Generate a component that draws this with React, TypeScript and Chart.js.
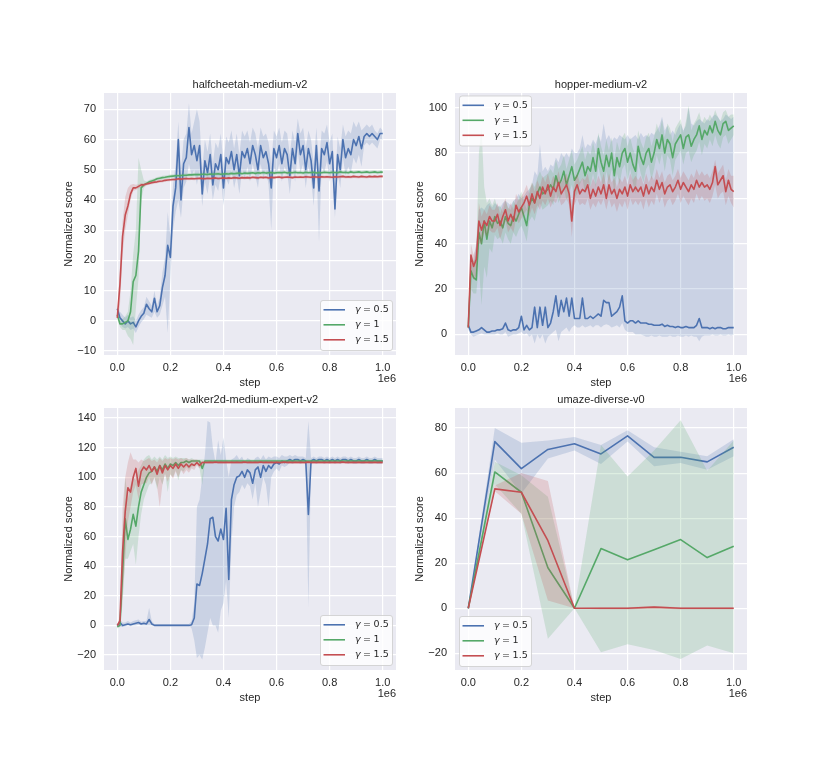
import React, { useEffect, useRef } from 'react';
import { Chart, registerables } from 'chart.js';

Chart.register(...registerables);

// evaluation steps (in units of 1e6)
const NOISY_STEPS = [
  0, 0.01, 0.02, 0.03, 0.04, 0.05, 0.06, 0.07, 0.08, 0.09,
  0.1, 0.11, 0.12, 0.13, 0.14, 0.15, 0.16, 0.17, 0.18, 0.19,
  0.2, 0.21, 0.22, 0.23, 0.24, 0.25, 0.26, 0.27, 0.28, 0.29,
  0.3, 0.31, 0.32, 0.33, 0.34, 0.35, 0.36, 0.37, 0.38, 0.39,
  0.4, 0.41, 0.42, 0.43, 0.44, 0.45, 0.46, 0.47, 0.48, 0.49,
  0.5, 0.51, 0.52, 0.53, 0.54, 0.55, 0.56, 0.57, 0.58, 0.59,
  0.6, 0.61, 0.62, 0.63, 0.64, 0.65, 0.66, 0.67, 0.68, 0.69,
  0.7, 0.71, 0.72, 0.73, 0.74, 0.75, 0.76, 0.77, 0.78, 0.79,
  0.8, 0.81, 0.82, 0.83, 0.84, 0.85, 0.86, 0.87, 0.88, 0.89,
  0.9, 0.91, 0.92, 0.93, 0.94, 0.95, 0.96, 0.97, 0.98, 0.99,
  1,
];
const UM_STEPS = [0, 0.1, 0.2, 0.3, 0.4, 0.5, 0.6, 0.7, 0.8, 0.9, 1];

const X_TICKS = [0, 0.2, 0.4, 0.6, 0.8, 1];
const HC_Y_TICKS = [-10, 0, 10, 20, 30, 40, 50, 60, 70];
const HP_Y_TICKS = [0, 20, 40, 60, 80, 100];
const WK_Y_TICKS = [-20, 0, 20, 40, 60, 80, 100, 120, 140];
const UM_Y_TICKS = [-20, 0, 20, 40, 60, 80];

const LEGEND_LABELS = ['γ = 0.5', 'γ = 1', 'γ = 1.5'];

// ---- halfcheetah-medium-v2 ----
const HC_BLUE = [
  4, 1, 0, -1, 0, -1, -0.5, -2, 0, 1.5,
  2.5, 5.5, 4, 3, 7.5, 3, 5, 11, 15, 25,
  21, 38, 44, 60, 40, 52, 54, 64, 55, 58,
  53, 58, 42, 53, 49, 55, 45, 52, 50, 55,
  44, 54, 52, 56, 50, 55, 48, 56, 54, 57,
  52, 58, 55, 50, 58, 54, 56, 52, 44, 57,
  54, 58, 52, 57, 55, 48, 57, 52, 62, 55,
  58, 50, 57, 53, 44, 58, 43, 57, 55, 59,
  52, 56, 37, 55, 50, 60, 54, 57, 55, 60,
  58, 61, 57, 61, 62, 61, 62, 61, 60, 62,
  62,
];
const HC_BLUE_LO = [
  2, -1, -2, -2.5, -2, -3, -2.5, -4, -2, -0.5,
  0.5, 2, 1.5, 1, 3, 1, 2, 5, 8, -4,
  14, 30, 36, 40, 34, 44, 46, 52, 48, 50,
  45, 50, 38, 46, 42, 48, 40, 45, 43, 48,
  38, 47, 45, 50, 44, 48, 42, 50, 47, 51,
  46, 52, 48, 44, 52, 47, 50, 45, 30, 51,
  48, 52, 46, 51, 49, 42, 51, 46, 56, 49,
  52, 44, 51, 47, 38, 52, 26, 51, 49, 53,
  46, 50, 34, 49, 44, 54, 48, 51, 49, 54,
  52, 55, 51, 58, 59, 58, 59, 58, 57, 60,
  60,
];
const HC_BLUE_HI = [
  5, 3, 2, 1, 2, 1, 1.5, 0, 2, 3.5,
  4.5, 8, 6.5, 5, 10, 5, 8, 16, 21, 36,
  28, 45, 52, 66, 50, 60, 62, 72, 62, 66,
  70, 66, 50, 60, 56, 62, 52, 59, 57, 62,
  52, 61, 59, 63, 57, 62, 55, 63, 61, 63,
  59, 64, 62, 57, 64, 61, 62, 59, 52, 63,
  61, 64, 59, 63, 62, 55, 63, 59, 67, 62,
  64, 57, 63, 60, 52, 64, 52, 63, 62, 65,
  59, 62, 44, 61, 57, 65, 61, 63, 62, 66,
  64, 66, 63, 64, 65, 64, 65, 63, 62, 64,
  63,
];
const HC_GREEN = [
  2, -1, -1, -0.5, 0, 3, 13, 15, 23, 44,
  45, 45.5, 46, 46.3, 46.6, 47, 47.2, 47.4, 47.5, 47.7,
  47.8, 47.9, 48, 48, 48.1, 48.2, 48.2, 48.3, 48.3, 48.4,
  48.4, 48.4, 48.5, 48.5, 48.4, 48.6, 48.5, 48.6, 48.7, 48.5,
  48.6, 48.7, 48.6, 48.8, 48.7, 48.8, 48.9, 48.7, 48.9, 48.8,
  48.9, 49, 48.8, 49, 48.9, 49.1, 48.9, 49, 49.1, 48.9,
  49, 49.1, 49, 49.2, 48.9, 49.1, 49, 49.2, 49, 49.1,
  48.9, 49.2, 49, 49.1, 49.2, 48.9, 49.1, 49, 49.2, 49.1,
  49, 49.2, 49.1, 49, 49.3, 49.1, 49.2, 49, 49.3, 49.1,
  49.2, 49.3, 49.1, 49.2, 49.3, 49.1, 49.2, 49.3, 49.1, 49.2,
  49.2,
];
const HC_GREEN_LO = [
  1, -2, -3, -3, -5, -6, -8, 4, 14, 40,
  44, 44.9, 45.4, 45.7, 46, 46.4, 46.6, 46.8, 46.9, 47.1,
  47.2, 47.3, 47.4, 47.4, 47.5, 47.6, 47.6, 47.7, 47.7, 47.8,
  47.8, 47.8, 47.9, 47.9, 47.8, 48, 47.9, 48, 48.1, 47.9,
  48, 48.1, 48, 48.2, 48.1, 48.2, 48.3, 48.1, 48.3, 48.2,
  48.3, 48.4, 48.2, 48.4, 48.3, 48.5, 48.3, 48.4, 48.5, 48.3,
  48.4, 48.5, 48.4, 48.6, 48.3, 48.5, 48.4, 48.6, 48.4, 48.5,
  48.3, 48.6, 48.4, 48.5, 48.6, 48.3, 48.5, 48.4, 48.6, 48.5,
  48.4, 48.6, 48.5, 48.4, 48.7, 48.5, 48.6, 48.4, 48.7, 48.5,
  48.6, 48.7, 48.5, 48.6, 48.7, 48.5, 48.6, 48.7, 48.5, 48.6,
  48.6,
];
const HC_GREEN_HI = [
  3, 0, 0.5, 1.5, 3, 10, 22, 30, 54, 50,
  46.5, 46.1, 46.6, 46.9, 47.2, 47.6, 47.8, 48, 48.1, 48.3,
  48.4, 48.5, 48.6, 48.6, 48.7, 48.8, 48.8, 48.9, 48.9, 49,
  49, 49, 49.1, 49.1, 49, 49.2, 49.1, 49.2, 49.3, 49.1,
  49.2, 49.3, 49.2, 49.4, 49.3, 49.4, 49.5, 49.3, 49.5, 49.4,
  49.5, 49.6, 49.4, 49.6, 49.5, 49.7, 49.5, 49.6, 49.7, 49.5,
  49.6, 49.7, 49.6, 49.8, 49.5, 49.7, 49.6, 49.8, 49.6, 49.7,
  49.5, 49.8, 49.6, 49.7, 49.8, 49.5, 49.7, 49.6, 49.8, 49.7,
  49.6, 49.8, 49.7, 49.6, 49.9, 49.7, 49.8, 49.6, 49.9, 49.7,
  49.8, 49.9, 49.7, 49.8, 49.9, 49.7, 49.8, 49.9, 49.7, 49.8,
  49.8,
];
const HC_RED = [
  1, 12, 28, 35, 38, 42, 44, 44, 44.5, 45,
  45, 45.3, 45.5, 45.7, 45.9, 46, 46.2, 46.3, 46.5, 46.6,
  46.7, 46.8, 46.8, 47, 46.9, 47, 47.1, 47, 47.1, 47,
  47.1, 47.2, 47.1, 47, 47.2, 47.1, 47.2, 47.3, 47.1, 47.2,
  47.3, 47.2, 47.3, 47.2, 47.4, 47.3, 47.2, 47.4, 47.3, 47.4,
  47.3, 47.5, 47.4, 47.3, 47.5, 47.4, 47.5, 47.3, 47.5, 47.4,
  47.5, 47.6, 47.4, 47.5, 47.6, 47.5, 47.4, 47.6, 47.5, 47.6,
  47.5, 47.7, 47.6, 47.5, 47.7, 47.6, 47.5, 47.7, 47.6, 47.7,
  47.6, 47.5, 47.7, 47.6, 47.7, 47.8, 47.6, 47.7, 47.6, 47.8,
  47.7, 47.6, 47.8, 47.7, 47.6, 47.8, 47.7, 47.8, 47.7, 47.8,
  47.8,
];
const HC_RED_LO = [
  0, 5, 22, 30, 35, 40, 43, 43.3, 43.8, 44.3,
  44.4, 44.8, 45, 45.2, 45.4, 45.5, 45.7, 45.8, 46, 46.1,
  46.2, 46.3, 46.3, 46.5, 46.4, 46.5, 46.6, 46.5, 46.6, 46.5,
  46.6, 46.7, 46.6, 46.5, 46.7, 46.6, 46.7, 46.8, 46.6, 46.7,
  46.8, 46.7, 46.8, 46.7, 46.9, 46.8, 46.7, 46.9, 46.8, 46.9,
  46.8, 47, 46.9, 46.8, 47, 46.9, 47, 46.8, 47, 46.9,
  47, 47.1, 46.9, 47, 47.1, 47, 46.9, 47.1, 47, 47.1,
  47, 47.2, 47.1, 47, 47.2, 47.1, 47, 47.2, 47.1, 47.2,
  47.1, 47, 47.2, 47.1, 47.2, 47.3, 47.1, 47.2, 47.1, 47.3,
  47.2, 47.1, 47.3, 47.2, 47.1, 47.3, 47.2, 47.3, 47.2, 47.3,
  47.3,
];
const HC_RED_HI = [
  2, 18, 33, 41, 44, 45, 45.3, 45, 45.2, 45.6,
  45.6, 45.8, 46, 46.2, 46.4, 46.5, 46.7, 46.8, 47, 47.1,
  47.2, 47.3, 47.3, 47.5, 47.4, 47.5, 47.6, 47.5, 47.6, 47.5,
  47.6, 47.7, 47.6, 47.5, 47.7, 47.6, 47.7, 47.8, 47.6, 47.7,
  47.8, 47.7, 47.8, 47.7, 47.9, 47.8, 47.7, 47.9, 47.8, 47.9,
  47.8, 48, 47.9, 47.8, 48, 47.9, 48, 47.8, 48, 47.9,
  48, 48.1, 47.9, 48, 48.1, 48, 47.9, 48.1, 48, 48.1,
  48, 48.2, 48.1, 48, 48.2, 48.1, 48, 48.2, 48.1, 48.2,
  48.1, 48, 48.2, 48.1, 48.2, 48.3, 48.1, 48.2, 48.1, 48.3,
  48.2, 48.1, 48.3, 48.2, 48.1, 48.3, 48.2, 48.3, 48.2, 48.3,
  48.3,
];

// ---- hopper-medium-v2 ----
const HP_BLUE = [
  4, 1, 1, 1.5, 2, 3, 2, 1, 1, 1.5,
  1.5, 2, 2, 2.5, 5, 2, 1.5, 2, 2, 3,
  8, 2, 4, 2, 3, 12, 3, 12, 4, 12,
  3, 5, 10, 17, 8, 15, 10, 16, 8, 16,
  7, 7, 7, 16, 7, 7, 8, 7, 8, 9,
  8, 15, 14, 14, 8, 9, 10, 12, 17, 6,
  5, 6, 6, 5, 6, 5, 5, 5, 4.5, 4.5,
  4, 4, 4, 4.5, 3.5, 4, 3.5, 3.5, 3, 3.5,
  3, 3, 3.5, 3, 3, 3, 4, 7, 3, 3,
  3, 2.5, 3, 2.5, 3, 3, 2.5, 2.5, 3, 3,
  3,
];
const HP_BLUE_LO = [
  2, 0, -1, -0.5, 0, 0.5, 0, 0, 0, 0,
  0, 0.5, 0, 0, 1, -1, -0.5, 0, 0, 0.5,
  1, 0, 0.5, -1, 0, -4, 0, -2, 0, -4,
  -1, 0, 1, 2, -3, 1, 2, 3, 1, 3,
  4, 3, 3, 4, 3, 3.5, 4, 3, 4, 4,
  3, 4, 4.5, 4, 3, 3.5, 4, 3, 5, 2,
  1, 1, 1, 0, 0, 0, -0.5, -1, -1, -0.5,
  -1, -1, -0.5, -1, -1, -1, -0.5, -1, -1, -0.5,
  -1, -1, -0.5, -1, -0.5, -1, -1, -3, -1, -0.5,
  -0.5, -0.5, 0, -0.5, -0.5, 0, -0.5, -0.5, 0, -0.5,
  0,
];
const HP_BLUE_HI = [
  5, 30, 33, 40, 55, 56, 55, 57, 58, 56,
  58, 57, 56, 58, 59, 58, 57, 59, 60, 62,
  60, 61, 63, 64, 66, 72, 70, 84, 72, 74,
  72, 75, 74, 78, 76, 80, 78, 80, 78, 82,
  80, 80, 82, 88, 82, 84, 83, 86, 84, 88,
  85, 93, 86, 88, 85, 87, 86, 88, 87, 86,
  88, 86, 87, 88, 86, 89, 87, 88, 87, 89,
  88, 90, 92, 96, 90, 92, 88, 90, 88, 91,
  93, 90, 92, 100, 93, 92, 94, 95, 94, 93,
  95, 94, 96, 97, 96, 94, 95, 97, 96, 95,
  96,
];
const HP_GREEN = [
  3, 28, 25, 24, 45, 40, 50, 42, 50, 47,
  52, 49, 50, 47, 52, 49, 48, 52, 50, 53,
  56, 52, 48, 57, 60, 58, 62, 65, 62, 63,
  64, 66, 64, 70, 66, 68, 72, 66, 70, 74,
  68, 70, 73, 76, 70, 74, 72, 78, 72, 82,
  76, 72, 79, 74, 80, 70, 78, 74, 80, 82,
  76, 80, 75, 72, 83, 78, 75, 80, 82, 76,
  80, 86, 82, 88, 80, 86, 84, 78, 84, 86,
  88, 82, 87, 88, 83, 86, 88, 92, 86, 90,
  88, 92, 89, 94, 90, 88, 93, 94, 90, 91,
  92,
];
const HP_GREEN_LO = [
  1, 20, 18, 18, 30, 13, 30, 25, 38, 36,
  44, 42, 43, 40, 45, 42, 40, 45, 43, 46,
  48, 45, 41, 50, 52, 50, 55, 58, 55, 56,
  57, 59, 57, 63, 58, 61, 65, 59, 62, 66,
  60, 62, 66, 69, 62, 67, 65, 71, 65, 74,
  69, 64, 72, 66, 73, 62, 71, 66, 73, 75,
  68, 73, 67, 62, 76, 71, 67, 73, 75, 68,
  73, 79, 75, 80, 72, 79, 77, 70, 77, 79,
  81, 75, 80, 81, 76, 79, 81, 85, 79, 84,
  82, 86, 83, 88, 84, 82, 87, 88, 84, 86,
  88,
];
const HP_GREEN_HI = [
  5, 35, 32, 35, 80, 91, 65, 58, 60, 57,
  60, 56, 57, 54, 59, 56, 55, 59, 57, 60,
  63, 59, 55, 64, 67, 65, 69, 72, 69, 70,
  71, 73, 71, 77, 73, 75, 79, 73, 77, 81,
  75, 77, 80, 83, 77, 81, 79, 85, 79, 89,
  83, 79, 86, 81, 87, 77, 85, 81, 87, 89,
  83, 87, 82, 79, 90, 85, 82, 87, 89, 83,
  87, 93, 89, 95, 87, 93, 91, 85, 91, 93,
  95, 89, 94, 101, 90, 93, 95, 98, 93, 96,
  94, 97, 95, 99, 96, 94, 98, 99, 96, 97,
  97,
];
const HP_RED = [
  3, 35, 30, 33, 50, 46, 50, 48, 52, 50,
  50, 53, 48, 52, 55, 50, 53, 50, 57, 54,
  56, 58, 61, 57, 62, 58, 63, 60, 65, 62,
  66, 61, 65, 63, 67, 62, 64, 66, 62, 50,
  63, 66, 62, 64, 63, 66, 60, 64, 61, 65,
  62, 66, 60, 66, 62, 64, 60, 64, 62, 65,
  61, 66, 63, 65, 63, 65, 61, 66, 62, 65,
  63, 68, 64, 67, 62, 65, 66, 63, 65, 68,
  64, 67, 65, 63, 66, 64, 68, 65, 67, 65,
  66, 64, 67, 74, 66, 68, 70, 63, 68, 64,
  63,
];
const HP_RED_LO = [
  1, 28, 24, 26, 40, 40, 45, 43, 46, 45,
  45, 47, 42, 46, 50, 45, 47, 45, 51, 49,
  51, 53, 55, 52, 56, 53, 57, 55, 59, 57,
  60, 56, 59, 58, 61, 57, 58, 60, 57, 43,
  57, 60, 57, 58, 57, 60, 55, 58, 56, 59,
  57, 60, 55, 60, 56, 58, 54, 58, 56, 59,
  55, 60, 57, 59, 57, 59, 55, 60, 56, 59,
  57, 62, 58, 61, 56, 59, 60, 57, 59, 62,
  58, 61, 59, 57, 60, 58, 62, 59, 61, 59,
  60, 58, 61, 66, 60, 62, 63, 57, 61, 58,
  56,
];
const HP_RED_HI = [
  5, 40, 35, 39, 58, 52, 55, 53, 57, 55,
  55, 58, 53, 57, 60, 55, 58, 55, 62, 59,
  61, 63, 66, 62, 67, 63, 68, 65, 70, 67,
  71, 66, 70, 68, 72, 67, 69, 71, 67, 57,
  68, 71, 67, 69, 68, 71, 65, 69, 66, 70,
  67, 71, 65, 71, 67, 69, 65, 69, 67, 70,
  66, 71, 68, 70, 68, 70, 66, 71, 67, 70,
  68, 73, 69, 72, 67, 70, 71, 68, 70, 73,
  69, 72, 70, 68, 71, 69, 73, 70, 72, 70,
  71, 69, 72, 77, 71, 73, 75, 68, 73, 70,
  70,
];

// ---- walker2d-medium-expert-v2 ----
const WK_BLUE = [
  0, 2, 0, 0.5, 1, 0.5, 1, 1.5, 2, 1,
  1.5, 1, 4, 1, 0, 0, 0, 0, 0, 0,
  0, 0, 0, 0, 0, 0, 0, 0, 0.5, 5,
  28, 27, 35, 45, 55, 72, 73, 60, 57, 65,
  58, 79, 31, 85, 95, 100, 101, 104, 100, 105,
  103, 96, 105, 107, 100, 108, 104, 108, 106, 109,
  110, 109, 111, 110, 111, 112, 111, 112, 112, 111,
  112, 111, 75, 111, 112, 111, 112, 112, 111, 112,
  111, 112, 111, 112, 111, 112, 112, 111, 112, 111,
  111, 112, 111, 111, 112, 111, 111, 112, 111, 111,
  111,
];
const WK_BLUE_LO = [
  -1, -1, -1, -0.5, 0, -0.5, 0, 0, 0.5, 0,
  0, 0, 0, 0, 0, 0, 0, 0, 0, 0,
  0, 0, 0, 0, 0, 0, 0, 0, -2, -10,
  -22, -20, -23, -15, -5, 5, 0, 0, -5, 10,
  15, 30, 5, 55, 80, 88, 90, 95, 92, 96,
  94, 85, 96, 80, 90, 100, 95, 80, 100, 104,
  106, 104, 108, 107, 108, 110, 109, 110, 110, 109,
  110, 109, 12, 109, 110, 109, 110, 110, 109, 110,
  109, 110, 109, 110, 109, 110, 110, 109, 110, 109,
  109, 110, 109, 109, 110, 109, 109, 110, 109, 109,
  109,
];
const WK_BLUE_HI = [
  1, 4, 2, 2, 3, 2, 3, 3.5, 4, 2.5,
  3, 3, 12, 3, 1, 1, 1, 1, 1, 1,
  1, 1, 1, 1, 1, 1, 1, 1, 3, 15,
  80, 85, 100, 115, 138, 137, 120, 110, 125, 115,
  127, 112, 100, 112, 113, 115, 112, 114, 110, 113,
  112, 110, 113, 114, 112, 115, 112, 114, 113, 114,
  114, 113, 115, 114, 114, 115, 114, 115, 114, 114,
  114, 113, 138, 113, 114, 113, 114, 114, 113, 114,
  113, 114, 113, 114, 113, 114, 114, 113, 114, 113,
  113, 114, 113, 113, 114, 113, 113, 114, 113, 113,
  113,
];
const WK_GREEN = [
  -1, 0, 35, 72, 58, 65, 75, 67, 80, 90,
  95, 100, 103, 104, 107, 104, 108, 105, 109, 106,
  109, 108, 110, 108, 110, 110, 111, 110, 111, 111,
  111, 111, 106, 111, 111, 111, 111, 111, 111, 111,
  111, 111, 111, 111, 111, 111, 111, 111, 111, 111,
  111, 111, 111, 111, 111, 111, 111, 111, 111, 111,
  111, 111, 111, 111, 111, 111, 111, 111, 111, 111,
  111, 111, 111, 111, 111, 111, 111, 111, 111, 111,
  111, 111, 111, 111, 111, 111, 111, 111, 111, 111,
  111, 111, 111, 111, 111, 111, 111, 111, 111, 111,
  111,
];
const WK_GREEN_LO = [
  -2, -1, 15, 45, 45, 50, 55, 41, 60, 75,
  85, 90, 95, 96, 100, 92, 100, 95, 103, 90,
  102, 100, 105, 98, 105, 104, 107, 105, 107, 108,
  109, 106, 95, 110, 110, 110, 110, 110, 110, 110,
  110, 110, 110, 110, 110, 110, 110, 110, 110, 110,
  110, 110, 110, 110, 110, 110, 110, 110, 110, 110,
  110, 110, 110, 110, 110, 110, 110, 110, 110, 110,
  110, 110, 110, 110, 110, 110, 110, 110, 110, 110,
  110, 110, 110, 110, 110, 110, 110, 110, 110, 110,
  110, 110, 110, 110, 110, 110, 110, 110, 110, 110,
  110,
];
const WK_GREEN_HI = [
  0, 1, 60, 100, 85, 95, 100, 98, 105, 108,
  112, 114, 115, 112, 114, 112, 114, 112, 115, 113,
  114, 113, 114, 113, 113, 113, 113, 112, 113, 112,
  112, 112, 112, 112, 112, 112, 112, 112, 112, 112,
  112, 112, 112, 112, 112, 112, 112, 112, 112, 112,
  112, 112, 112, 112, 112, 112, 112, 112, 112, 112,
  112, 112, 112, 112, 112, 112, 112, 112, 112, 112,
  112, 112, 112, 112, 112, 112, 112, 112, 112, 112,
  112, 112, 112, 112, 112, 112, 112, 112, 112, 112,
  112, 112, 112, 112, 112, 112, 112, 112, 112, 112,
  112,
];
const WK_RED = [
  0, 3, 50, 77, 93, 90, 100, 106, 94, 104,
  107, 105, 108, 104, 107, 102, 108, 103, 108, 105,
  108, 106, 109, 106, 109, 107, 109, 107, 109, 108,
  110, 108, 110, 110, 110, 110.2, 110, 110.3, 110, 110.2,
  110, 110.2, 110, 110.1, 110, 110.2, 110, 110.1, 110.3, 110,
  110.2, 110, 110.1, 110, 110.3, 110, 110.2, 110, 110.1, 110,
  110.2, 110, 110.1, 110.3, 110, 110.2, 110, 110.1, 110, 110.2,
  110, 110.1, 110.3, 110, 110.2, 110, 110.1, 110, 110.2, 110,
  110.1, 110, 110.2, 110, 110.1, 110.3, 110, 110.2, 110, 110.1,
  110, 110.2, 110, 110.1, 110, 110.2, 110, 110.1, 110, 110.2,
  110,
];
const WK_RED_LO = [
  -1, 0, 20, 45, 70, 80, 90, 95, 85, 95,
  96, 96, 100, 95, 100, 94, 80, 95, 102, 97,
  102, 99, 104, 100, 105, 102, 105, 103, 106, 105,
  108, 106, 108, 109, 109, 109, 109, 109, 109, 109,
  109, 109, 109, 109, 109, 109, 109, 109, 109, 109,
  109, 109, 109, 109, 109, 109, 109, 109, 109, 109,
  109, 109, 109, 109, 109, 109, 109, 109, 109, 109,
  109, 109, 109, 109, 109, 109, 109, 109, 109, 109,
  109, 109, 109, 109, 109, 109, 109, 109, 109, 109,
  109, 109, 109, 109, 109, 109, 109, 109, 109, 109,
  109,
];
const WK_RED_HI = [
  1, 6, 80, 100, 110, 117, 112, 112, 110, 112,
  111, 112, 113, 111, 112, 110, 113, 111, 113, 112,
  113, 112, 113, 112, 113, 112, 113, 112, 112, 112,
  112, 111, 111, 111, 111, 111, 111, 111, 111, 111,
  111, 111, 111, 111, 111, 111, 111, 111, 111, 111,
  111, 111, 111, 111, 111, 111, 111, 111, 111, 111,
  111, 111, 111, 111, 111, 111, 111, 111, 111, 111,
  111, 111, 111, 111, 111, 111, 111, 111, 111, 111,
  111, 111, 111, 111, 111, 111, 111, 111, 111, 111,
  111, 111, 111, 111, 111, 111, 111, 111, 111, 111,
  111,
];

// ---- umaze-diverse-v0 ----
const UM_BLUE = [0, 74, 62, 70.5, 73, 68.5, 76.5, 67, 67, 65, 71.5];
const UM_BLUE_LO = [0, 66, 51, 66.5, 70, 64, 74, 63, 64.5, 61.5, 67.5];
const UM_BLUE_HI = [0, 80, 73.5, 74.5, 76, 72.5, 79, 71.5, 69.5, 67.5, 75];
const UM_GREEN = [0, 60.5, 51.5, 18, 0, 26.5, 21.5, 26, 30.5, 22.5, 27.5];
const UM_GREEN_LO = [0, 55, 42, -13.5, 0, -19.5, -16, -18.5, -22.5, -16.5, -20];
const UM_GREEN_HI = [0, 65, 59, 49.5, 0, 72.5, 58.5, 70, 83.5, 61, 74.5];
const UM_RED = [0, 53, 51.5, 30, 0, 0, 0, 0.5, 0, 0, 0];
const UM_RED_LO = [0, 52, 42, 3.5, 0, -0.5, -0.5, 0, -0.5, -0.5, -0.5];
const UM_RED_HI = [0, 54.5, 60, 56.5, 0, 0.5, 0.5, 1, 0.5, 0.5, 0.5];

const BLUE = '#4c72b0';
const GREEN = '#55a868';
const RED = '#c44e52';
const INK = '#262626';
const FONT = '"Liberation Sans", Arial, sans-serif';
const MATH_FONT = '"DejaVu Sans", sans-serif';

type Series = { color: string; mean: number[]; lo: number[]; hi: number[] };
type Box = { left: number; top: number; width: number; height: number };
type LegendPos = 'lower right' | 'upper left' | 'lower left';
type PanelSpec = {
  title: string;
  steps: number[];
  series: Series[];
  yMin: number;
  yMax: number;
  yTicks: number[];
  legend: LegendPos;
  box: Box;
};

// canvas margins around the plot area
const PAD_L = 70;
const PAD_T = 40;
const PAD_R = 20;
const PAD_B = 50;

const PANELS: PanelSpec[] = [
  {
    title: 'halfcheetah-medium-v2',
    steps: NOISY_STEPS,
    series: [
      { color: BLUE, mean: HC_BLUE, lo: HC_BLUE_LO, hi: HC_BLUE_HI },
      { color: GREEN, mean: HC_GREEN, lo: HC_GREEN_LO, hi: HC_GREEN_HI },
      { color: RED, mean: HC_RED, lo: HC_RED_LO, hi: HC_RED_HI },
    ],
    yMin: -11.3, yMax: 75.4, yTicks: HC_Y_TICKS, legend: 'lower right',
    box: { left: 104, top: 93, width: 292, height: 262 },
  },
  {
    title: 'hopper-medium-v2',
    steps: NOISY_STEPS,
    series: [
      { color: BLUE, mean: HP_BLUE, lo: HP_BLUE_LO, hi: HP_BLUE_HI },
      { color: GREEN, mean: HP_GREEN, lo: HP_GREEN_LO, hi: HP_GREEN_HI },
      { color: RED, mean: HP_RED, lo: HP_RED_LO, hi: HP_RED_HI },
    ],
    yMin: -9.1, yMax: 106.5, yTicks: HP_Y_TICKS, legend: 'upper left',
    box: { left: 455, top: 93, width: 292, height: 262 },
  },
  {
    title: 'walker2d-medium-expert-v2',
    steps: NOISY_STEPS,
    series: [
      { color: BLUE, mean: WK_BLUE, lo: WK_BLUE_LO, hi: WK_BLUE_HI },
      { color: GREEN, mean: WK_GREEN, lo: WK_GREEN_LO, hi: WK_GREEN_HI },
      { color: RED, mean: WK_RED, lo: WK_RED_LO, hi: WK_RED_HI },
    ],
    yMin: -30.1, yMax: 146.8, yTicks: WK_Y_TICKS, legend: 'lower right',
    box: { left: 104, top: 408, width: 292, height: 262 },
  },
  {
    title: 'umaze-diverse-v0',
    steps: UM_STEPS,
    series: [
      { color: BLUE, mean: UM_BLUE, lo: UM_BLUE_LO, hi: UM_BLUE_HI },
      { color: GREEN, mean: UM_GREEN, lo: UM_GREEN_LO, hi: UM_GREEN_HI },
      { color: RED, mean: UM_RED, lo: UM_RED_LO, hi: UM_RED_HI },
    ],
    yMin: -27.4, yMax: 88.9, yTicks: UM_Y_TICKS, legend: 'lower left',
    box: { left: 455, top: 408, width: 292, height: 262 },
  },
];

const withAlpha = (hex: string, a: number) => {
  const n = parseInt(hex.slice(1), 16);
  return `rgba(${(n >> 16) & 255}, ${(n >> 8) & 255}, ${n & 255}, ${a})`;
};

// draws "γ = 0.5" roughly the way matplotlib mathtext sets it
const drawGammaLabel = (ctx: CanvasRenderingContext2D, label: string, x: number, y: number) => {
  const [g, eq, num] = label.split(' ');
  ctx.font = `italic 9.5px ${MATH_FONT}`;
  ctx.fillText(g, x, y);
  let cx = x + ctx.measureText(g).width + 2.5;
  ctx.font = `9.5px ${MATH_FONT}`;
  ctx.fillText(eq, cx, y);
  cx += ctx.measureText(eq).width + 2.5;
  ctx.fillText(num, cx, y);
};

const Panel: React.FC<{ spec: PanelSpec }> = ({ spec }) => {
  const canvasRef = useRef<HTMLCanvasElement | null>(null);
  const W = spec.box.width + PAD_L + PAD_R;
  const H = spec.box.height + PAD_T + PAD_B;

  useEffect(() => {
    const canvas = canvasRef.current;
    if (!canvas) return;

    const pts = (ys: number[]) => spec.steps.map((x, i) => ({ x, y: ys[i] }));
    const datasets: any[] = [];
    const n = spec.series.length;
    spec.series.forEach((s, k) => {
      const base = (n - 1 - k) * 3; // later series drawn on top
      datasets.push({
        data: pts(s.lo), borderWidth: 0, borderColor: 'rgba(0,0,0,0)',
        pointRadius: 0, fill: false, order: base + 2,
      });
      datasets.push({
        data: pts(s.hi), borderWidth: 0, borderColor: 'rgba(0,0,0,0)',
        pointRadius: 0, fill: '-1', backgroundColor: withAlpha(s.color, 0.2), order: base + 1,
      });
      datasets.push({
        data: pts(s.mean), borderColor: s.color, borderWidth: 1.6,
        borderJoinStyle: 'round', pointRadius: 0, fill: false, order: base,
      });
    });

    const decor = {
      id: 'decor',
      beforeDraw(chart: Chart) {
        const { ctx, chartArea: a } = chart;
        ctx.save();
        ctx.fillStyle = '#eaeaf2';
        ctx.fillRect(a.left, a.top, a.right - a.left, a.bottom - a.top);
        ctx.restore();
      },
      afterDraw(chart: Chart) {
        const { ctx, chartArea: a } = chart;
        ctx.save();
        ctx.fillStyle = INK;
        ctx.font = `11px ${FONT}`;
        ctx.textBaseline = 'middle';
        ctx.textAlign = 'center';
        ctx.fillText(spec.title, (a.left + a.right) / 2, a.top - 8.5);
        ctx.textAlign = 'right';
        ctx.fillText('1e6', a.right, a.bottom + 24);

        // legend
        const bw = 72;
        const bh = 50;
        let bx = a.left + 4;
        let by = a.top + 2.5;
        if (spec.legend === 'lower right') {
          bx = a.right - 4 - bw;
          by = a.bottom - 5 - bh;
        } else if (spec.legend === 'lower left') {
          by = a.bottom - 4 - bh;
        }
        ctx.beginPath();
        ctx.roundRect(bx + 0.5, by + 0.5, bw, bh, 2.5);
        ctx.fillStyle = 'rgba(255,255,255,0.8)';
        ctx.fill();
        ctx.strokeStyle = 'rgba(204,204,204,0.8)';
        ctx.lineWidth = 1;
        ctx.stroke();
        ctx.textAlign = 'left';
        spec.series.forEach((s, i) => {
          const y = by + 9.8 + i * 15;
          ctx.beginPath();
          ctx.moveTo(bx + 3.5, y);
          ctx.lineTo(bx + 25, y);
          ctx.strokeStyle = s.color;
          ctx.lineWidth = 1.6;
          ctx.stroke();
          ctx.fillStyle = INK;
          drawGammaLabel(ctx, LEGEND_LABELS[i], bx + 35, y);
        });
        ctx.restore();
      },
    };

    const tickFont = { family: FONT, size: 11 };
    const chart = new Chart(canvas, {
      type: 'line',
      data: { datasets },
      plugins: [decor],
      options: {
        responsive: false,
        animation: false,
        events: [],
        layout: { padding: { left: 0, top: PAD_T, right: PAD_R, bottom: 0 } },
        plugins: { legend: { display: false }, tooltip: { enabled: false }, title: { display: false } },
        elements: { line: { tension: 0 } },
        scales: {
          x: {
            type: 'linear',
            min: -0.05,
            max: 1.05,
            afterBuildTicks: (s: any) => { s.ticks = X_TICKS.map((v) => ({ value: v })); },
            afterFit: (s: any) => { s.height = PAD_B; },
            grid: { color: '#ffffff', lineWidth: 1.2, drawTicks: false },
            border: { display: false },
            ticks: {
              color: INK, font: tickFont, padding: 6, maxRotation: 0, autoSkip: false,
              callback: (v: any) => Number(v).toFixed(1),
            },
            title: {
              display: true, text: 'step', color: INK, font: tickFont,
              padding: { top: 0, bottom: 15 },
            },
          },
          y: {
            type: 'linear',
            min: spec.yMin,
            max: spec.yMax,
            afterBuildTicks: (s: any) => { s.ticks = spec.yTicks.map((v) => ({ value: v })); },
            afterFit: (s: any) => { s.width = PAD_L; },
            grid: { color: '#ffffff', lineWidth: 1.2, drawTicks: false },
            border: { display: false },
            ticks: {
              color: INK, font: tickFont, padding: 8, autoSkip: false,
              callback: (v: any) => (Number(v) < 0 ? '\u2212' + Math.abs(Number(v)) : String(v)),
            },
            title: {
              display: true, text: 'Normalized score', color: INK, font: tickFont,
              padding: { top: 28, bottom: 0 },
            },
          },
        },
      } as any,
    });

    return () => {
      chart.destroy();
    };
  }, [spec]);

  return (
    <canvas
      ref={canvasRef}
      width={W}
      height={H}
      style={{
        position: 'absolute',
        left: spec.box.left - PAD_L,
        top: spec.box.top - PAD_T,
        width: W,
        height: H,
      }}
    />
  );
};

const App: React.FC = () => (
  <div style={{ position: 'absolute', left: 0, top: 0, width: 830, height: 767, background: '#ffffff' }}>
    {PANELS.map((p) => (
      <Panel key={p.title} spec={p} />
    ))}
  </div>
);

export default App;
